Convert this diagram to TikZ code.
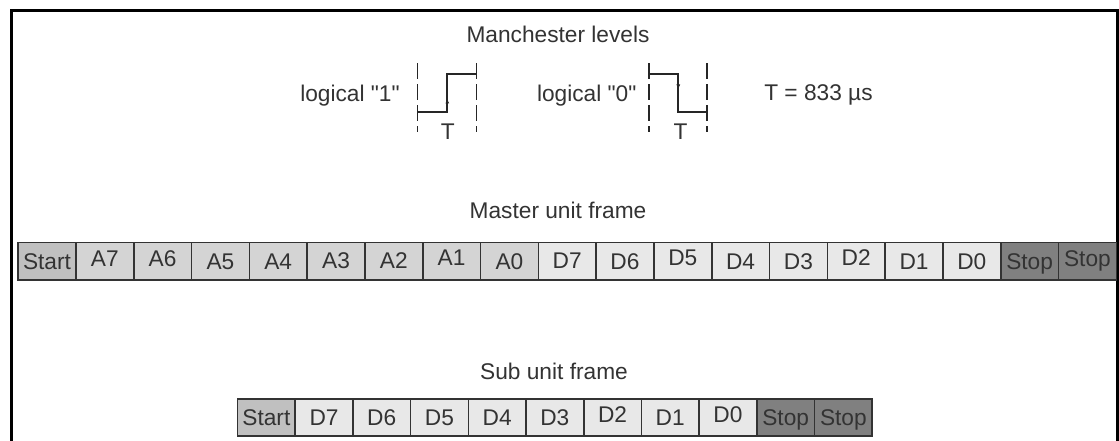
\documentclass[tikz,border=0pt]{standalone}
\usepackage{fontspec}
\setmainfont{Liberation Sans}[Ligatures=TeXOff]
\usetikzlibrary{arrows.meta}
\newcommand{\lblfont}{\fontsize{22.7}{26}\selectfont}
\definecolor{cStart}{HTML}{C0C0C0}
\definecolor{cA}{HTML}{D4D4D4}
\definecolor{cD}{HTML}{E8E8E8}
\definecolor{cStop}{HTML}{808080}
\definecolor{ink}{HTML}{333333}
\tikzset{
  cell/.style={draw=ink, line width=1.6pt, inner sep=0pt, anchor=north west,
    text height=16.3pt, font=\lblfont, text=ink},
  mcell/.style={cell, minimum width=57.8pt, minimum height=37.3pt},
  scell/.style={cell, minimum width=57.7pt, minimum height=36.7pt},
  title/.style={font=\lblfont, text=ink, anchor=base, inner sep=0pt},
  wave/.style={line width=1.9pt, draw=black!85, line join=miter},
  guide/.style={line width=1.5pt, draw=black!85, dash pattern=on 16pt off 5pt},
  frameline/.style={line width=2.6pt, draw=black, line join=miter},
  tip/.style={-{Latex[length=5pt,width=4pt]}},
}
\begin{document}
\begin{tikzpicture}[x=1pt,y=-1pt]
\useasboundingbox (0,0) rectangle (1119,441);
\fill[white] (0,0) rectangle (1119,441);
% outer frame (runs off the bottom)
\draw[frameline] (11.5,441) -- (11.5,10.5) -- (1117.7,10.5) -- (1117.7,441);

% Manchester levels
\node[title] (mlev) at (558,42.5) {Manchester levels};
\node[title] (lg1) at (350,101.5) {logical "1"};
\node[title] (lg0) at (586.7,101.5) {logical "0"};
\node[title] (tval) at (818.5,101) {T = 833 µs};
\node[title] (t1) at (447.8,140) {T};
\node[title] (t0) at (680.5,140) {T};

% logical 1 waveform
\draw[guide] (417.5,63.5) -- (417.5,132);
\draw[guide] (476.5,63.5) -- (476.5,132);
\draw[wave] (417.5,111.7) -- (447.3,111.7) -- (447.3,74.3) -- (476.5,74.3);
\draw[wave,tip] (447.3,104) -- (447.3,98.5);
% logical 0 waveform
\draw[guide] (649,63.5) -- (649,132);
\draw[guide] (707,63.5) -- (707,132);
\draw[wave] (649,74.3) -- (678.3,74.3) -- (678.3,111.7) -- (707,111.7);
\draw[wave,tip] (678.3,84) -- (678.3,89.5);

% Master unit frame
\node[title] (mtitle) at (558,218.3) {Master unit frame};
\foreach \lab/\col/\dd [count=\i from 0] in {
  Start/cStart/0, A7/cA/6, A6/cA/6, A5/cA/0, A4/cA/0, A3/cA/2, A2/cA/2, A1/cA/7, A0/cA/0,
  D7/cD/1, D6/cD/0, D5/cD/7, D4/cD/0, D3/cD/0, D2/cD/7, D1/cD/0, D0/cD/0,
  Stop/cStop/0, Stop/cStop/5}
{
  \node[mcell, fill=\col, text depth=\dd pt] (m\i) at ({17.3+57.8*\i},241.7) {\lab};
}

% Sub unit frame
\node[title] (stitle) at (554,379) {Sub unit frame};
\foreach \lab/\col/\dd [count=\i from 0] in {
  Start/cStart/1, D7/cD/0, D6/cD/0, D5/cD/0, D4/cD/0, D3/cD/0, D2/cD/6,
  D1/cD/0, D0/cD/6, Stop/cStop/0, Stop/cStop/0}
{
  \node[scell, fill=\col, text depth=\dd pt] (s\i) at ({236.7+57.7*\i},398.3) {\lab};
}
\end{tikzpicture}
\end{document}
